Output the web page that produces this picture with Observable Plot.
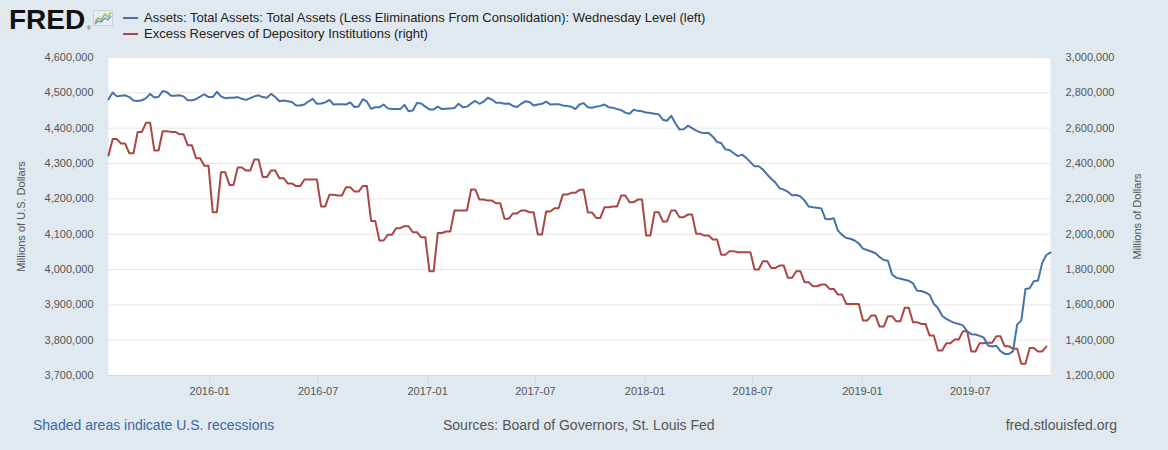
<!DOCTYPE html>
<html><head><meta charset="utf-8">
<script src="https://cdn.jsdelivr.net/npm/d3@7"></script>
<script src="https://cdn.jsdelivr.net/npm/@observablehq/plot@0.6"></script>
<style>
html,body{margin:0;padding:0;background:#e1e9f0;}
body{width:1168px;height:450px;overflow:hidden;font-family:"Liberation Sans",Arial,sans-serif;}
#header{position:relative;height:48px;}
#logo{position:absolute;left:9px;top:3px;font-weight:900;font-size:28px;letter-spacing:0;color:#111;line-height:34px;}
#reg{position:absolute;left:87px;top:26px;font-size:5px;line-height:5px;color:#333;}
#icon{position:absolute;left:93px;top:10px;}
.leg{position:absolute;left:123px;font-size:13px;color:#222;line-height:14px;white-space:nowrap;}
.leg .sw{display:inline-block;width:15px;height:2px;vertical-align:middle;margin-right:6px;position:relative;top:-1px;}
#chart{height:360px;}
#footer{position:relative;height:42px;font-size:14px;}
#footer div{position:absolute;top:9px;white-space:nowrap;}
</style></head><body>
<div id="header">
  <div id="logo">FRED</div>
  <div id="reg">&reg;</div>
  <svg id="icon" width="20" height="16" viewBox="0 0 20 16">
    <rect x="0.5" y="0.5" width="19" height="15" fill="#e8ecef" stroke="#c9d2da"/>
    <polyline points="2,12 5,8 8,10 12,4 15,7 18,2" fill="none" stroke="#8fbf4f" stroke-width="1.4"/>
    <polyline points="2,14 5,11 8,12 12,8 15,10 18,6" fill="none" stroke="#5b8fc7" stroke-width="1.2"/>
  </svg>
  <div class="leg" style="top:11px"><span class="sw" style="background:#4572a7"></span>Assets: Total Assets: Total Assets (Less Eliminations From Consolidation): Wednesday Level (left)</div>
  <div class="leg" style="top:27px"><span class="sw" style="background:#aa4643"></span>Excess Reserves of Depository Institutions (right)</div>
</div>
<div id="chart"></div>
<div id="footer">
  <div style="left:33px;color:#3b67a3">Shaded areas indicate U.S. recessions</div>
  <div style="left:443px;color:#555">Sources: Board of Governors, St. Louis Fed</div>
  <div style="right:51px;color:#555">fred.stlouisfed.org</div>
</div>
<script>
// Weekly observations (Wednesdays) starting at this date
const startDate = "2015-07-15";

// Total Assets, millions of U.S. dollars (left axis)
const totalAssets = [
4482,4501,4490,4492,4493,4488,4478,4477,4479,4485,4497,4487,4489,4505,4502,4492,4492,4493,4490,4479,
4479,4482,4489,4496,4488,4488,4503,4490,4485,4486,4486,4488,4483,4480,4485,4490,4493,4488,4486,4497,
4488,4476,4478,4476,4474,4464,4464,4467,4476,4483,4469,4470,4473,4480,4467,4468,4468,4467,4473,4460,
4461,4482,4475,4455,4459,4459,4467,4456,4454,4454,4454,4466,4448,4450,4471,4470,4461,4453,4453,4461,
4454,4455,4456,4457,4469,4459,4461,4470,4477,4469,4475,4486,4481,4472,4472,4469,4470,4463,4460,4469,
4476,4474,4464,4467,4469,4475,4467,4468,4468,4464,4463,4461,4454,4467,4471,4459,4458,4461,4463,4467,
4459,4458,4454,4451,4444,4441,4452,4449,4448,4444,4443,4441,4439,4424,4421,4435,4414,4396,4397,4407,
4400,4393,4388,4386,4386,4376,4361,4358,4340,4338,4329,4321,4325,4316,4304,4292,4292,4283,4269,4257,
4246,4230,4226,4220,4210,4211,4207,4195,4178,4176,4175,4173,4143,4142,4145,4110,4098,4089,4087,4082,
4074,4059,4055,4051,4046,4035,4027,4025,3986,3977,3974,3971,3968,3961,3940,3939,3935,3928,3903,3891,
3869,3860,3854,3849,3846,3842,3825,3817,3816,3812,3807,3785,3782,3784,3769,3761,3761,3768,3844,3856,
3945,3947,3967,3969,4018,4041,4048
].map(v => v * 1000);

// Excess Reserves of Depository Institutions, millions of dollars (right axis)
const excessReserves = [
2445,2538,2538,2513,2513,2458,2458,2579,2579,2630,2630,2474,2474,2583,2583,2579,2579,2566,2566,2504,
2504,2430,2430,2387,2387,2124,2124,2351,2351,2279,2279,2377,2377,2360,2360,2423,2423,2323,2323,2360,
2360,2317,2317,2287,2287,2272,2272,2309,2309,2309,2309,2157,2157,2223,2223,2219,2219,2266,2266,2241,
2241,2272,2272,2075,2075,1964,1964,1996,1996,2034,2034,2045,2045,2011,2011,1983,1983,1790,1790,2007,
2007,2015,2015,2134,2134,2134,2134,2253,2253,2196,2196,2190,2190,2175,2175,2087,2087,2117,2117,2134,
2134,2124,2124,1998,1998,2128,2128,2147,2147,2224,2224,2234,2234,2251,2251,2123,2123,2092,2092,2153,
2153,2156,2156,2219,2219,2181,2181,2196,2196,1992,1992,2124,2124,2072,2072,2134,2134,2096,2096,2111,
2111,2002,2002,1992,1992,1970,1970,1883,1883,1904,1904,1898,1898,1898,1898,1800,1800,1847,1847,1809,
1809,1822,1822,1753,1753,1790,1790,1728,1728,1705,1705,1715,1715,1690,1690,1658,1658,1605,1605,1605,
1605,1511,1511,1539,1539,1477,1477,1536,1536,1507,1507,1583,1583,1502,1502,1492,1492,1426,1426,1341,
1341,1383,1383,1404,1404,1451,1451,1336,1336,1383,1383,1385,1385,1422,1422,1366,1366,1351,1351,1266,
1266,1355,1355,1336,1336,1364
].map(v => v * 1000);

const xTickLabels = ["2016-01","2016-07","2017-01","2017-07","2018-01","2018-07","2019-01","2019-07"];
const leftTicks = [3700000,3800000,3900000,4000000,4100000,4200000,4300000,4400000,4500000,4600000];
const rightTicks = [1200000,1400000,1600000,1800000,2000000,2200000,2400000,2600000,2800000,3000000];

const start = new Date(startDate + "T00:00:00Z");
const dates = totalAssets.map((_, i) => d3.utcDay.offset(start, 7 * i));
const assetsData = totalAssets.map((v, i) => ({date: dates[i], value: v}));
const reservesData = excessReserves.map((v, i) => ({date: dates[i], value: v}));
const xTicks = xTickLabels.map(s => new Date(s + "-01T00:00:00Z"));
const r2l = d3.scaleLinear([rightTicks[0], rightTicks[rightTicks.length - 1]], [leftTicks[0], leftTicks[leftTicks.length - 1]]);
const fmt = d3.format(",");

const chart = Plot.plot({
  width: 1168,
  height: 360,
  marginTop: 9,
  marginBottom: 33,
  marginLeft: 108,
  marginRight: 118,
  style: {background: "transparent", fontFamily: "'Liberation Sans', Arial, sans-serif", fontSize: "11px", color: "#555"},
  x: {type: "utc", domain: [dates[0], dates[dates.length - 1]]},
  y: {domain: [leftTicks[0], leftTicks[leftTicks.length - 1]]},
  marks: [
    Plot.frame({fill: "white", stroke: "none"}),
    Plot.gridY(leftTicks.slice(1), {stroke: "#e6e6e6", strokeOpacity: 1}),
    Plot.ruleY([leftTicks[0]], {stroke: "#ccd6eb"}),
    Plot.axisX(xTicks, {tickFormat: d3.utcFormat("%Y-%m"), tickSize: 8, tickPadding: 4, stroke: "#ccd6eb", fill: "#555", label: null}),
    Plot.axisY(leftTicks, {anchor: "left", tickSize: 0, tickPadding: 15, tickFormat: fmt, fill: "#555",
      label: "Millions of U.S. Dollars", labelAnchor: "center", labelArrow: "none", labelOffset: 91}),
    Plot.axisY(rightTicks.map(r2l), {anchor: "right", tickSize: 0, tickPadding: 15, fill: "#555",
      tickFormat: d => fmt(Math.round(r2l.invert(d))),
      label: "Millions of Dollars", labelAnchor: "center", labelArrow: "none", labelOffset: 90}),
    Plot.line(reservesData, {x: "date", y: d => r2l(d.value), stroke: "#aa4643", strokeWidth: 2}),
    Plot.line(assetsData, {x: "date", y: "value", stroke: "#4572a7", strokeWidth: 2})
  ]
});
document.getElementById("chart").appendChild(chart);
</script>
</body></html>
